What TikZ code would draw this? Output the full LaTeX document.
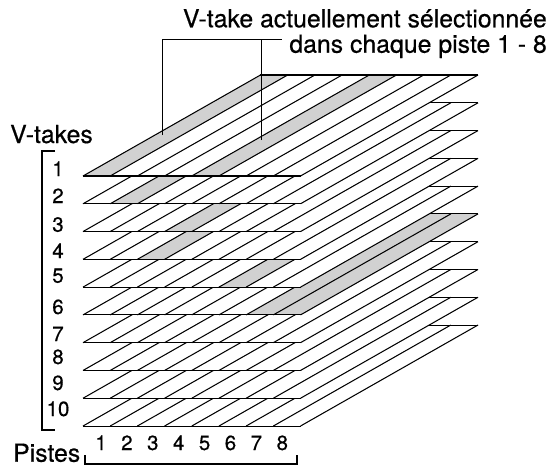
\documentclass[tikz,border=0pt]{standalone}
\usepackage{fontspec}
\setmainfont{TeX Gyre Heros}[FakeBold=0.5]
\begin{document}
\begin{tikzpicture}[x=1pt,y=-1pt,
  strip/.style={line width=1.05pt,line join=round},
  selfill/.style={fill=black!18},
  brack/.style={line width=1.9pt},
  lead/.style={line width=1pt},
  big/.style={font=\fontsize{24.8}{28}\selectfont,inner sep=0pt},
  num/.style={font=\fontsize{20.5}{24}\selectfont,inner sep=0pt}]
\useasboundingbox (0,0) rectangle (551,471);
% layers, drawn from bottom (10) to top (1)
\foreach \k in {10,9,...,1} {
  \pgfmathsetmacro\yf{176+(\k-1)*27.78}
  \pgfmathsetmacro\yb{\yf-101}
  \fill[white] (83,\yf) -- (300.5,\yf) -- (478,\yb) -- (260,\yb) -- cycle;
  \foreach \L/\S in {1/1,1/5,2/2,3/4,4/3,5/6,6/7,6/8} {
    \ifnum\L=\k
      \pgfmathsetmacro\xa{83+(\S-1)*27.19}
      \pgfmathsetmacro\xb{\xa+27.19}
      \fill[selfill] (\xa,\yf) -- (\xb,\yf) -- (\xb+177.5,\yb) -- (\xa+177.5,\yb) -- cycle;
    \fi
  }
  \foreach \i in {0,...,8} {
    \pgfmathsetmacro\xs{83+\i*27.19}
    \draw[strip] (\xs,\yf) -- (\xs+177.5,\yb);
  }
  \draw[strip] (83,\yf) -- (300.5,\yf);
  \draw[strip] (260,\yb) -- (478,\yb);
}
% title
\node[big,anchor=base east] (t1) at (547,27.3) {V-take actuellement sélectionnée};
\node[big,anchor=base east] (t2) at (547,52.7) {dans chaque piste 1 - 8};
% leader lines
\coordinate (la) at (162,135);
\coordinate (lb) at (261,140);
\coordinate (ltl) at (162,39);
\coordinate (ltr) at (282,39);
\draw[lead] (la) -- (ltl) -- (ltr);
\draw[lead] (lb) -- (lb |- ltl);
% V-takes
\node[big,anchor=base west] (vt) at (10,143) {V-takes};
\draw[brack] (55,150.7) -- (41.7,150.7) -- (41.7,430) -- (55,430);
\foreach \n/\yy in {1/176,2/203,3/231.7,4/258,5/282.7,6/314,7/341,8/364,9/390,10/416} {
  \node[num,anchor=base] (v\n) at (58,\yy) {\n};
}
% Pistes
\node[big,anchor=base west] (ps) at (13,461.7) {Pistes};
\draw[brack] (85,455) -- (85,464) -- (297,464) -- (297,455);
\foreach \n in {1,...,8} {
  \node[num,anchor=base] (p\n) at ({101+25.9*(\n-1)},450) {\n};
}
\end{tikzpicture}
\end{document}
